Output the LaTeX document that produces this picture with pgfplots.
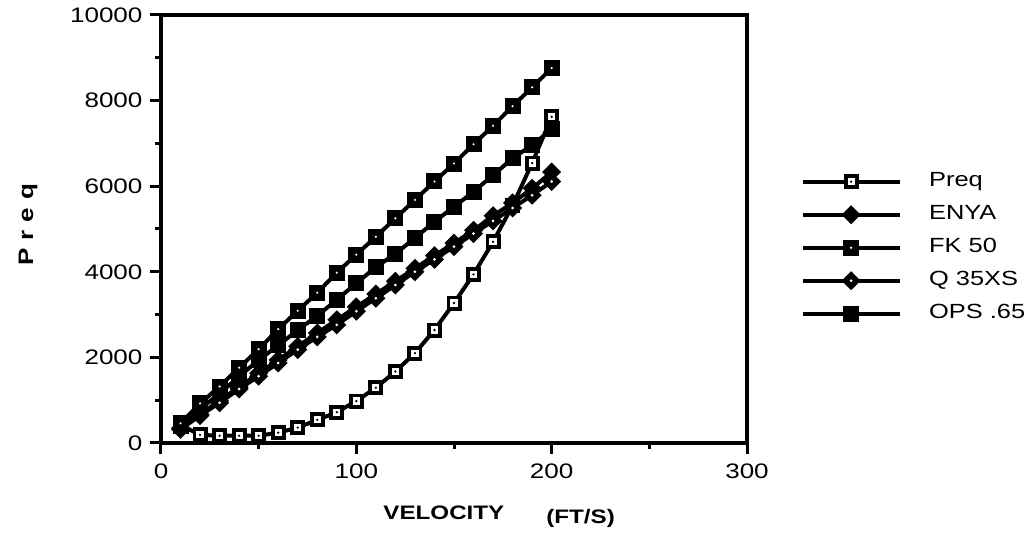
\documentclass[border=0pt]{standalone}
\usepackage{fontspec}
\setmainfont{Liberation Sans}[FakeStretch=1.24]
\usepackage{pgfplots}
\pgfplotsset{compat=1.18}

\pgfdeclareplotmark{preqmark}{%
  \begin{pgfscope}
  \pgfsetfillcolor{black}%
  \pgfpathrectangle{\pgfpoint{-7.5pt}{-7.5pt}}{\pgfpoint{15pt}{15pt}}\pgfusepath{fill}%
  \pgfsetfillcolor{white}%
  \pgfpathrectangle{\pgfpoint{-3.6pt}{-3.6pt}}{\pgfpoint{7.2pt}{7.2pt}}\pgfusepath{fill}%
  \pgfsetfillcolor{black}%
  \pgfpathcircle{\pgfpointorigin}{1.3pt}\pgfusepath{fill}%
  \end{pgfscope}}
\pgfdeclareplotmark{fkmark}{%
  \begin{pgfscope}
  \pgfsetfillcolor{black}%
  \pgfpathrectangle{\pgfpoint{-8pt}{-8pt}}{\pgfpoint{16pt}{16pt}}\pgfusepath{fill}%
  \pgfsetfillcolor{white}%
  \pgfpathcircle{\pgfpointorigin}{1.2pt}\pgfusepath{fill}%
  \end{pgfscope}}
\pgfdeclareplotmark{opsmark}{%
  \begin{pgfscope}
  \pgfsetfillcolor{black}%
  \pgfpathrectangle{\pgfpoint{-8pt}{-8pt}}{\pgfpoint{16pt}{16pt}}\pgfusepath{fill}%
  \end{pgfscope}}
\pgfdeclareplotmark{enyamark}{%
  \begin{pgfscope}
  \pgfsetfillcolor{black}%
  \pgfpathmoveto{\pgfpoint{0pt}{9.5pt}}\pgfpathlineto{\pgfpoint{9.5pt}{0pt}}%
  \pgfpathlineto{\pgfpoint{0pt}{-9.5pt}}\pgfpathlineto{\pgfpoint{-9.5pt}{0pt}}\pgfpathclose\pgfusepath{fill}%
  \end{pgfscope}}
\pgfdeclareplotmark{qmark}{%
  \begin{pgfscope}
  \pgfsetfillcolor{black}%
  \pgfpathmoveto{\pgfpoint{0pt}{9.5pt}}\pgfpathlineto{\pgfpoint{9.5pt}{0pt}}%
  \pgfpathlineto{\pgfpoint{0pt}{-9.5pt}}\pgfpathlineto{\pgfpoint{-9.5pt}{0pt}}\pgfpathclose\pgfusepath{fill}%
  \pgfsetfillcolor{white}%
  \pgfpathcircle{\pgfpointorigin}{1.5pt}\pgfusepath{fill}%
  \end{pgfscope}}

\pgfplotstableread{
v Preq ENYA FK Q OPS
10 420 350 460 320 400
20 190 670 925 640 790
30 170 990 1320 940 1160
40 170 1310 1760 1260 1550
50 170 1630 2190 1560 1940
60 240 1940 2660 1870 2280
70 360 2260 3090 2180 2640
80 540 2570 3510 2480 2970
90 720 2880 3980 2760 3350
100 980 3180 4400 3080 3730
110 1290 3480 4820 3380 4110
120 1670 3780 5250 3690 4420
130 2100 4080 5680 4000 4790
140 2640 4380 6110 4290 5170
150 3270 4670 6530 4590 5520
160 3940 4970 6980 4890 5870
170 4700 5310 7410 5190 6260
180 5550 5610 7870 5490 6650
190 6540 5950 8310 5790 6960
200 7620 6330 8760 6110 7330
}\data

\begin{document}
\begin{tikzpicture}
\begin{axis}[
  at={(0pt,0pt)}, anchor=south west,
  width=586pt, height=428pt, scale only axis,
  xmin=0, xmax=300, ymin=0, ymax=10000,
  xtick={0,100,200,300}, minor xtick={50,150,250},
  ytick={0,2000,4000,6000,8000,10000}, minor ytick={1000,3000,5000,7000,9000},
  tick pos=left, tick align=outside,
  major tick length=11pt, minor tick length=6pt,
  every tick/.append style={black, line width=3pt},
  every major tick/.append style={black, line width=3pt},
  every minor tick/.append style={black, line width=3pt},
  axis line style={line width=3.4pt},
  scaled y ticks=false,
  /pgf/number format/1000 sep={},
  /pgf/number format/assume math mode=true,
  ticklabel style={font=\fontsize{21}{24}\selectfont},
  xticklabel style={yshift=-6pt},
  yticklabel style={xshift=-4pt},
  xlabel={VELOCITY\hspace{42pt}\raisebox{-4pt}{(FT/S)}},
  xlabel style={at={(axis description cs:0.577,0)}, anchor=base, yshift=-76pt, font=\bfseries\fontsize{19.5}{22}\selectfont},
  ylabel={P\hspace{8pt}r\hspace{8pt}e\hspace{8pt}q},
  ylabel style={at={(axis description cs:0,0.51)}, anchor=center, yshift=133pt, font=\bfseries\fontsize{21}{24}\selectfont},
  every axis plot/.append style={black, line width=4pt},
  legend image code/.code={\draw[mark repeat=2, mark phase=2, #1] plot coordinates {(0pt,0pt) (48pt,0pt) (97pt,0pt)};},
  legend style={at={(axis description cs:1.092,0.632)}, anchor=north west, draw=none, fill=none, inner sep=0pt,
    font=\fontsize{20.5}{23}\selectfont, row sep=14.5pt,
    nodes={inner sep=0pt, text height=14pt, text depth=4pt}},
  legend cell align=left,
  /tikz/every odd column/.append style={column sep=27pt},
]
\addlegendimage{mark=preqmark}
\addlegendentry{Preq}
\addlegendimage{mark=enyamark}
\addlegendentry{ENYA}
\addlegendimage{mark=fkmark}
\addlegendentry{FK 50}
\addlegendimage{mark=qmark}
\addlegendentry{Q 35XS}
\addlegendimage{mark=opsmark}
\addlegendentry{OPS .65}
\addplot[mark=preqmark, forget plot] table[x=v, y=Preq] {\data};
\addplot[mark=enyamark, forget plot] table[x=v, y=ENYA] {\data};
\addplot[mark=qmark, forget plot] table[x=v, y=Q] {\data};
\addplot[mark=opsmark, forget plot] table[x=v, y=OPS] {\data};
\addplot[mark=fkmark, forget plot] table[x=v, y=FK] {\data};
\end{axis}
\pgfresetboundingbox
\path (-161pt,-97pt) rectangle (874pt,443pt);
\end{tikzpicture}
\end{document}
